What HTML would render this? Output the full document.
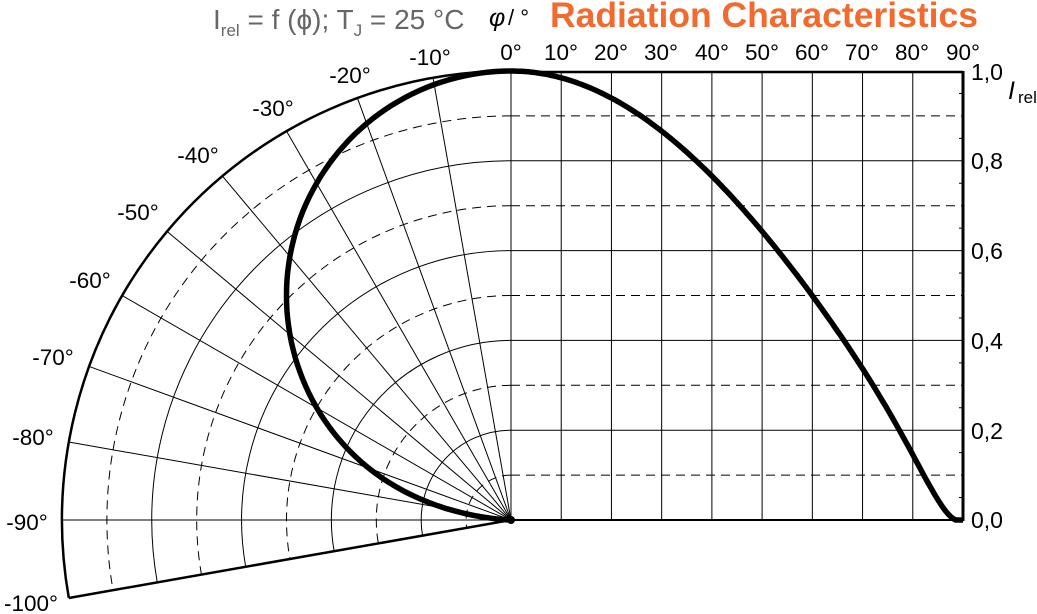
<!DOCTYPE html>
<html><head><meta charset="utf-8"><style>
html,body{margin:0;padding:0;background:#fff;}
svg{display:block}
text{font-family:"Liberation Sans",sans-serif;}
</style></head><body>
<svg id="s" width="1037" height="614" viewBox="0 0 1037 614" xmlns="http://www.w3.org/2000/svg">
<g id="g"></g>
<text x="213" y="29" font-size="28" fill="#666">I<tspan font-size="17" dy="7">rel</tspan><tspan dy="-7"> = f (ϕ); T</tspan><tspan font-size="17" dy="7">J</tspan><tspan dy="-7"> = 25 °C</tspan></text>
<text x="489" y="26" font-size="25" font-family="Liberation Serif,serif" font-style="italic">φ</text>
<text x="508" y="25" font-size="22">/ °</text>
<text x="550" y="27" font-size="35" font-weight="bold" fill="#f26a2e" textLength="428" lengthAdjust="spacingAndGlyphs">Radiation Characteristics</text>
<g font-size="22.5" text-anchor="middle">
<text x="511" y="60">0°</text><text x="561" y="60">10°</text><text x="611" y="60">20°</text><text x="661" y="60">30°</text><text x="712" y="60">40°</text><text x="762" y="60">50°</text><text x="812" y="60">60°</text><text x="862" y="60">70°</text><text x="912" y="60">80°</text><text x="963" y="60">90°</text>
<text x="430" y="65">-10°</text><text x="350" y="83">-20°</text><text x="273" y="116">-30°</text><text x="198" y="163">-40°</text><text x="138" y="220">-50°</text><text x="90" y="288">-60°</text><text x="53" y="365">-70°</text><text x="33" y="445">-80°</text><text x="27" y="530">-90°</text><text x="31" y="611">-100°</text>
</g>
<g font-size="23">
<text x="971" y="80">1,0</text><text x="971" y="169">0,8</text><text x="971" y="259">0,6</text><text x="971" y="349">0,4</text><text x="971" y="439">0,2</text><text x="971" y="528">0,0</text>
<text x="1008" y="99" font-size="25" font-family="Liberation Serif,serif" font-style="italic">I</text><text x="1018" y="103" font-size="17">rel</text>
</g>
</svg>
<script>
var cx=511,cy=520,R=449,x1=963,g=document.getElementById('g'),h='';
function L(a,b,c,d,w,dash){h+='<line x1="'+a+'" y1="'+b+'" x2="'+c+'" y2="'+d+'" stroke="#000" stroke-width="'+w+'"'+(dash?' stroke-dasharray="9,6"':'')+'/>';}
function P(th,r){var t=th*Math.PI/180;return [cx-r*Math.sin(t),cy-r*Math.cos(t)];}
for(var i=1;i<10;i++){var x=cx+(x1-cx)*i/9;L(x,72,x,520,1);}
for(var i=1;i<10;i++){var y=cy-R*i/10;L(cx,y,x1,y,1,i%2==1);}
for(var i=1;i<20;i++){var y=cy-R*i/20;if(i%2)L(x1-4,y,x1,y,1);}
L(cx,72,x1,72,2.5);L(x1,71,x1,521,3);L(cx,520,x1,520,2);L(cx,72,cx,520,1);
for(var i=1;i<=10;i++){var r=R*i/10,a=P(0,r),b=P(100,r);
h+='<path d="M'+a[0]+' '+a[1]+' A'+r+' '+r+' 0 0 0 '+b[0]+' '+b[1]+'" fill="none" stroke="#000" stroke-width="'+(i==10?2.5:1)+'"'+(i%2?' stroke-dasharray="9,6"':'')+'/>';}
for(var t=10;t<=100;t+=10){var p=P(t,R);L(cx,cy,p[0],p[1],t==100?2.5:1);}
function I(f){var v=Math.cos(f*Math.PI/180)*(1-Math.pow(f/88.5,18));return Math.max(v,0);}
var d='';
for(var t=-90;t<=0;t+=1){var p=P(-t,R*I(-t));d+=(d?'L':'M')+p[0].toFixed(1)+' '+p[1].toFixed(1);}
for(var f=0;f<=90;f+=0.5){var x=cx+(x1-cx)*f/90,y=cy-R*I(f);d+='L'+x.toFixed(1)+' '+y.toFixed(1);}
h+='<path d="'+d+'" fill="none" stroke="#000" stroke-width="5.5" stroke-linejoin="round"/>';
h+='<circle cx="'+cx+'" cy="'+cy+'" r="4"/>';
g.innerHTML=h;
</script>
</body></html>
